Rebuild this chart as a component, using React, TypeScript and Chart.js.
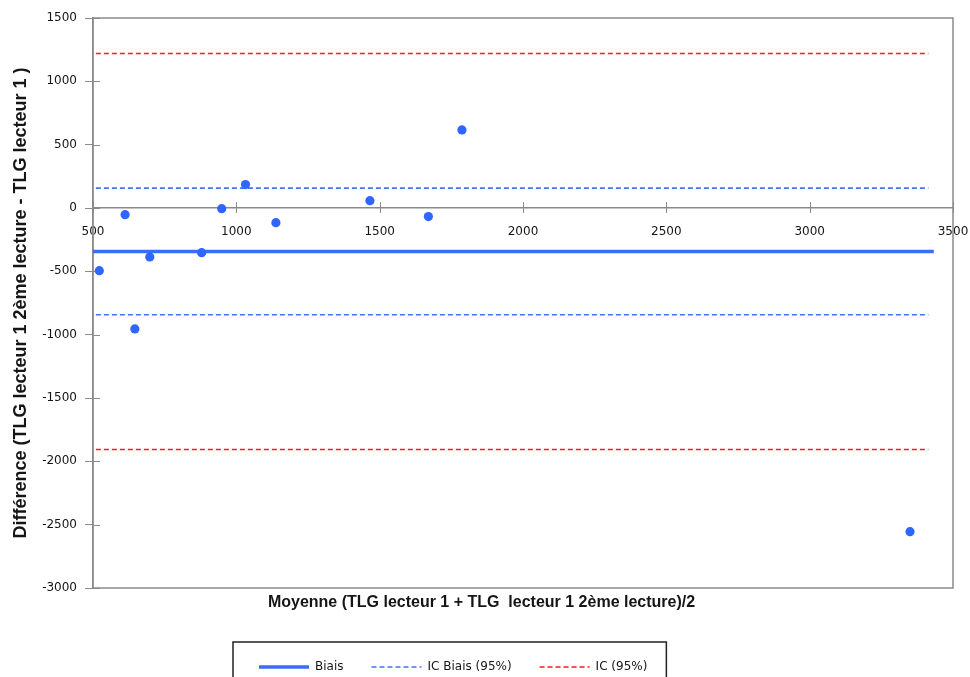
import React, { useEffect, useRef } from 'react';
import { Chart, registerables } from 'chart.js';

Chart.register(...registerables);

// ---- Data ----
const meanValues = [522, 612, 646, 698, 879, 949, 1032, 1138, 1466, 1670, 1787, 3350];
const diffValues = [-495, -53, -955, -387, -353, -5, 185, -116, 58, -68, 616, -2555];

const biasValue = -343;
const icBiasUpper = 157;
const icBiasLower = -843;
const icUpper = 1220;
const icLower = -1906;
const biasXRange = [500, 3433];
const limitXRange = [510, 3414];

const xMin = 500;
const xMax = 3500;
const xStep = 500;
const yMin = -3000;
const yMax = 1500;
const yStep = 500;

const seriesLabels = ['Points', 'Biais', 'IC Biais (95%)', 'IC Biais (95%) inf', 'IC (95%)', 'IC (95%) inf'];
const legendSeries = [1, 2, 4];
const xTitle = 'Moyenne (TLG lecteur 1 + TLG  lecteur 1 2ème lecture)/2';
const yTitle = 'Différence (TLG lecteur 1 2ème lecture - TLG lecteur 1 )';

const AXIS_GREY = '#8a8a8a';
const TEXT = '#151515';

const hLine = (xr: number[], y: number) => [
  { x: xr[0], y },
  { x: xr[1], y },
];

const decorPlugin = {
  id: 'decor',
  afterLayout(chart: any) {
    const lg = chart.legend;
    if (!lg || !lg.lineWidths) return;
    const pad = lg.options.labels.padding;
    const naturalStart = (lg.left + pad + lg.right - lg.lineWidths[0]) / 2;
    const dx = 259 - naturalStart;
    lg.left += dx;
    lg.right += dx;
    const h = lg.height;
    lg.top = 633;
    lg.bottom = 633 + h;
  },
  beforeDatasetsDraw(chart: any) {
    const { ctx, chartArea: ca, scales } = chart;
    ctx.save();
    ctx.strokeStyle = AXIS_GREY;
    ctx.lineWidth = 1.5;
    ctx.strokeRect(ca.left, ca.top, ca.right - ca.left, ca.bottom - ca.top);
    ctx.lineWidth = 1;
    const ys = scales.y;
    ys.ticks.forEach((t: any) => {
      const p = Math.round(ys.getPixelForValue(t.value)) + 0.5;
      ctx.beginPath();
      ctx.moveTo(ca.left, p);
      ctx.lineTo(ca.left + 7, p);
      ctx.stroke();
    });
    const xs = scales.x;
    const y0 = ys.getPixelForValue(0);
    xs.ticks.forEach((t: any) => {
      const p = Math.round(xs.getPixelForValue(t.value)) + 0.5;
      ctx.beginPath();
      ctx.moveTo(p, y0 - 6);
      ctx.lineTo(p, y0 + 5);
      ctx.stroke();
    });
    ctx.restore();
  },
  afterDraw(chart: any) {
    const lg = chart.legend;
    if (!lg || !lg.legendHitBoxes || !lg.legendHitBoxes.length) return;
    const hb = lg.legendHitBoxes;
    const first = hb[0];
    const last = hb[hb.length - 1];
    const { ctx } = chart;
    ctx.save();
    ctx.strokeStyle = '#222';
    ctx.lineWidth = 1.5;
    const left = first.left - 26;
    const right = last.left + last.width + 19;
    const top = first.top + first.height / 2 - 25;
    ctx.strokeRect(left, top, right - left, 80);
    ctx.restore();
  },
};

export default function App() {
  const ref = useRef<HTMLCanvasElement>(null);

  useEffect(() => {
    const canvas = ref.current!;
    const tickFont = { family: 'DejaVu Sans', size: 12 };
    const chart = new Chart(canvas, {
      type: 'scatter',
      data: {
        datasets: [
          {
            label: seriesLabels[0],
            data: meanValues.map((x, i) => ({ x, y: diffValues[i] })),
            backgroundColor: '#2f66ff',
            borderColor: '#2f66ff',
            borderWidth: 0,
            pointRadius: 4.6,
            pointHoverRadius: 4.6,
          },
          {
            label: seriesLabels[1],
            data: hLine(biasXRange, biasValue),
            showLine: true,
            borderColor: '#3a6cff',
            borderWidth: 3.5,
            pointRadius: 0,
          },
          {
            label: seriesLabels[2],
            data: hLine(limitXRange, icBiasUpper),
            showLine: true,
            borderColor: '#3f72ff',
            borderWidth: 1.6,
            borderDash: [5, 3],
            pointRadius: 0,
          },
          {
            label: seriesLabels[3],
            data: hLine(limitXRange, icBiasLower),
            showLine: true,
            borderColor: '#3f72ff',
            borderWidth: 1.6,
            borderDash: [5, 3],
            pointRadius: 0,
          },
          {
            label: seriesLabels[4],
            data: hLine(limitXRange, icUpper),
            showLine: true,
            borderColor: '#ff1a1a',
            borderWidth: 1.6,
            borderDash: [5, 3],
            pointRadius: 0,
          },
          {
            label: seriesLabels[5],
            data: hLine(limitXRange, icLower),
            showLine: true,
            borderColor: '#ff1a1a',
            borderWidth: 1.6,
            borderDash: [5, 3],
            pointRadius: 0,
          },
        ],
      },
      options: {
        animation: false,
        responsive: false,
        devicePixelRatio: 1,
        layout: { padding: { left: 10, top: 18, right: 17, bottom: 0 } },
        scales: {
          x: {
            type: 'linear',
            position: { y: 0 } as any,
            min: xMin,
            max: xMax,
            ticks: {
              stepSize: xStep,
              font: tickFont,
              color: TEXT,
              padding: 0,
              maxRotation: 0,
              callback: (v: any) => String(v),
            },
            grid: { drawOnChartArea: false, drawTicks: true, tickLength: 17, tickColor: 'rgba(0,0,0,0)' },
            border: { color: AXIS_GREY, width: 1.5 },
          },
          y: {
            type: 'linear',
            position: 'left',
            min: yMin,
            max: yMax,
            ticks: {
              stepSize: yStep,
              font: tickFont,
              color: TEXT,
              padding: 8,
              callback: (v: any) => String(v),
            },
            grid: { drawOnChartArea: false, tickLength: 8, color: AXIS_GREY, tickWidth: 1 },
            border: { color: AXIS_GREY, width: 1.5 },
            title: {
              display: true,
              text: yTitle,
              color: TEXT,
              font: { family: 'Liberation Sans', size: 18, weight: 'bold' },
              padding: { top: 0, bottom: 0 },
            },
            afterFit: (s: any) => {
              s.width = 83;
            },
          },
        },
        plugins: {
          title: {
            display: true,
            text: xTitle,
            position: 'bottom',
            weight: 500,
            color: TEXT,
            font: { family: 'Liberation Sans', size: 16, weight: 'bold' },
            padding: { top: 5.4, bottom: 37.4 },
          } as any,
          legend: {
            display: true,
            position: 'bottom',
            labels: {
              usePointStyle: true,
              pointStyleWidth: 50,
              padding: 28,
              color: TEXT,
              font: { family: 'DejaVu Sans', size: 12 },
              generateLabels: (c: any) =>
                legendSeries.map((i) => {
                  const ds = c.data.datasets[i];
                  return {
                    text: ds.label,
                    datasetIndex: i,
                    fillStyle: ds.borderColor,
                    strokeStyle: ds.borderColor,
                    lineWidth: ds.borderWidth,
                    lineDash: ds.borderDash || [],
                    lineCap: 'butt',
                    pointStyle: 'line',
                    fontColor: TEXT,
                    hidden: false,
                  };
                }),
            },
          },
          tooltip: { enabled: false },
        },
      },
      plugins: [decorPlugin],
    });
    return () => chart.destroy();
  }, []);

  return (
    <div
      style={{
        position: 'fixed',
        left: 0,
        top: 0,
        width: 970,
        height: 677,
        overflow: 'hidden',
        background: '#fff',
      }}
    >
      <canvas ref={ref} width={970} height={700} style={{ display: 'block', width: 970, height: 700 }} />
    </div>
  );
}
